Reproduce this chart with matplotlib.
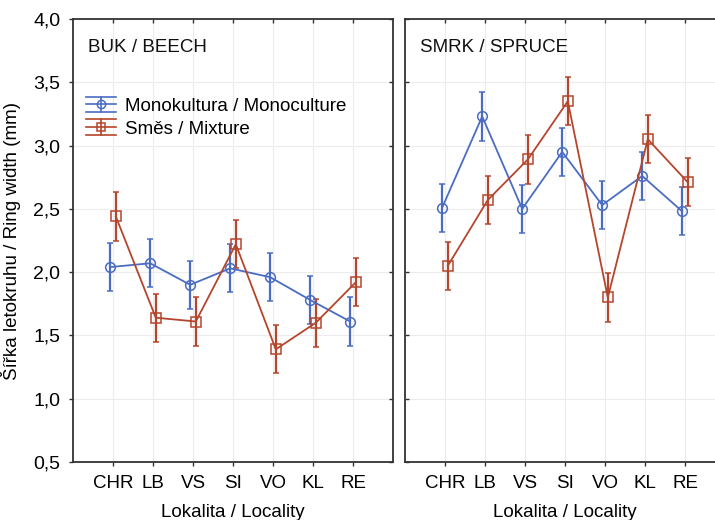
import matplotlib
matplotlib.use('Agg')
import matplotlib.pyplot as plt
from matplotlib.legend_handler import HandlerBase
from matplotlib.lines import Line2D
import numpy as np

plt.rcParams['font.family'] = ['Liberation Sans', 'DejaVu Sans']

localities = ['CHR', 'LB', 'VS', 'SI', 'VO', 'KL', 'RE']

# beech (BUK)
beech_mono = [2.04, 2.07, 1.90, 2.03, 1.96, 1.78, 1.61]
beech_mono_err = [0.19, 0.19, 0.19, 0.19, 0.19, 0.19, 0.19]
beech_mix = [2.44, 1.64, 1.61, 2.22, 1.39, 1.60, 1.92]
beech_mix_err = [0.19, 0.19, 0.19, 0.19, 0.19, 0.19, 0.19]

# spruce (SMRK)
spruce_mono = [2.51, 3.23, 2.50, 2.95, 2.53, 2.76, 2.48]
spruce_mono_err = [0.19, 0.19, 0.19, 0.19, 0.19, 0.19, 0.19]
spruce_mix = [2.05, 2.57, 2.89, 3.35, 1.80, 3.05, 2.71]
spruce_mix_err = [0.19, 0.19, 0.19, 0.19, 0.19, 0.19, 0.19]

yticks = [0.5, 1.0, 1.5, 2.0, 2.5, 3.0, 3.5, 4.0]

blue = '#4a6cc2'
red = '#b5452c'


class ErrKey:
    def __init__(self, color, marker):
        self.color = color
        self.marker = marker


class ErrKeyHandler(HandlerBase):
    # legend key like the original: wide caps above and below, vertical bar
    def create_artists(self, legend, orig_handle, xdescent, ydescent,
                       width, height, fontsize, trans):
        c = orig_handle.color
        y0 = height / 2 - ydescent
        d = height * 0.6
        arts = []
        for yy in (y0 - d, y0, y0 + d):
            arts.append(Line2D([-xdescent, width - xdescent], [yy, yy],
                               color=c, lw=1.2))
        xm = width / 2 - xdescent
        arts.append(Line2D([xm, xm], [y0 - d, y0 + d], color=c, lw=1.2))
        arts.append(Line2D([xm], [y0], marker=orig_handle.marker, ms=6,
                           mfc='none', mec=c, mew=1.1, color=c))
        for a in arts:
            a.set_transform(trans)
        return arts


fig = plt.figure(figsize=(7.15, 5.2), dpi=100)
ax1 = fig.add_axes([73 / 715, 58 / 520, 320 / 715, 443 / 520])
ax2 = fig.add_axes([405 / 715, 58 / 520, 320 / 715, 443 / 520])

x = np.arange(1, len(localities) + 1)
off = 0.07

panels = [
    (ax1, beech_mono, beech_mono_err, beech_mix, beech_mix_err, 'BUK / BEECH'),
    (ax2, spruce_mono, spruce_mono_err, spruce_mix, spruce_mix_err, 'SMRK / SPRUCE'),
]

for ax, mono, mono_e, mix, mix_e, title in panels:
    ax.errorbar(x - off, mono, yerr=mono_e, color=blue, marker='o', ms=7,
                mfc='none', mew=1.1, lw=1.3, capsize=2.5, elinewidth=1.6,
                capthick=1.3)
    ax.errorbar(x + off, mix, yerr=mix_e, color=red, marker='s', ms=7,
                mfc='none', mew=1.1, lw=1.3, capsize=2.5, elinewidth=1.6,
                capthick=1.3)
    ax.set_xlim(0, 8)
    ax.set_ylim(0.5, 4.0)
    ax.set_xticks(x)
    ax.set_xticklabels(localities, fontsize=13.5)
    ax.set_yticks(yticks)
    ax.grid(True, color='#ececec', lw=0.8)
    ax.set_axisbelow(True)
    for s in ax.spines.values():
        s.set_color('#333333')
        s.set_linewidth(1.3)
    ax.tick_params(axis='both', length=3, width=1, color='#333333', pad=6)
    ax.tick_params(axis='x', which='both', top=True)
    ax.set_xlabel('Lokalita / Locality', fontsize=13.5, labelpad=9)
    ax.text(0.047, 0.935, title, transform=ax.transAxes, fontsize=13.5,
            va='center', ha='left', color='#111111')

ax1.tick_params(axis='y', right=True)
ax1.set_yticklabels([f'{v:.1f}'.replace('.', ',') for v in yticks], fontsize=14)
ax1.set_ylabel('Šířka letokruhu / Ring width (mm)', fontsize=13.5, labelpad=9)
ax2.tick_params(labelleft=False)

# inward ticks on top and on the inner spines
for ax in (ax1, ax2):
    for t in ax.xaxis.get_major_ticks():
        t.tick2line.set_marker(3)
for t in ax1.yaxis.get_major_ticks():
    t.tick2line.set_marker(0)
for t in ax2.yaxis.get_major_ticks():
    t.tick1line.set_marker(1)

ax1.legend([ErrKey(blue, 'o'), ErrKey(red, 's')],
           ['Monokultura / Monoculture', 'Směs / Mixture'],
           handler_map={ErrKey: ErrKeyHandler()},
           loc='upper left', bbox_to_anchor=(0.04, 0.822), frameon=False,
           fontsize=13.5, handlelength=1.6, handletextpad=0.5,
           labelspacing=0.3, borderaxespad=0, borderpad=0)

fig.savefig('out.png', dpi=100)
